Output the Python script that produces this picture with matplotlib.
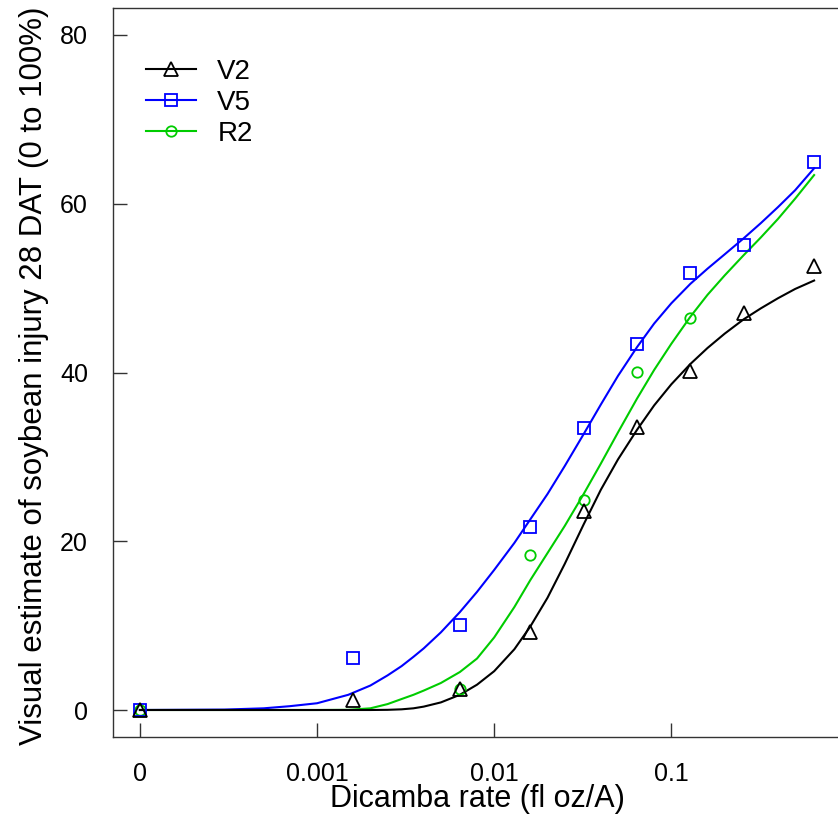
import numpy as np
import matplotlib
matplotlib.use('Agg')
import matplotlib.pyplot as plt

plt.rcParams['font.family'] = ['Liberation Sans', 'DejaVu Sans']

# dose 0 is drawn at 1e-4 on the log axis, labelled "0"
zero_pos = 1e-4
doses = [0, 0.0016, 0.0064, 0.016, 0.032, 0.064, 0.128, 0.256, 0.64]

# observed means (NaN = not visible in the figure)
v2_obs = [0, 1.2, 2.5, 9.2, 23.6, 33.5, 40.2, 47.0, 52.6]
v5_obs = [0, 6.2, 10.1, 21.7, 33.4, 43.4, 51.8, 55.1, 65.0]
r2_obs = [0, np.nan, 2.5, 18.4, 24.9, 40.1, 46.5, np.nan, np.nan]

# fitted curves
curve_doses = [1e-4, 0.0003, 0.0005, 0.0007, 0.001, 0.0015, 0.002, 0.0025,
               0.003, 0.0035, 0.004, 0.005, 0.0064, 0.008, 0.01, 0.013, 0.016,
               0.02, 0.025, 0.032, 0.04, 0.05, 0.064, 0.08, 0.1, 0.128, 0.16,
               0.2, 0.256, 0.32, 0.4, 0.5, 0.64]
v2_fit = [0, 0, 0, 0, 0, 0, 0, 0.02, 0.08, 0.2, 0.4, 0.9, 1.8, 3.0, 4.6,
          7.2, 9.9, 13.3, 17.3, 22.0, 26.1, 29.7, 33.2, 36.1, 38.6, 41.0,
          42.9, 44.6, 46.3, 47.6, 48.8, 49.9, 50.9]
v5_fit = [0, 0.05, 0.2, 0.45, 0.8, 1.8, 2.9, 4.1, 5.2, 6.3, 7.3, 9.2, 11.6,
          14.0, 16.6, 19.8, 22.6, 25.6, 28.9, 32.7, 36.2, 39.6, 43.0, 45.8,
          48.2, 50.5, 52.3, 54.0, 55.9, 57.7, 59.6, 61.6, 64.2]
r2_fit = [0, 0, 0, 0, 0, 0.02, 0.2, 0.7, 1.3, 1.8, 2.3, 3.2, 4.5, 6.1, 8.6,
          12.2, 15.4, 18.6, 21.8, 25.6, 29.2, 32.9, 36.9, 40.3, 43.4, 46.6,
          49.2, 51.5, 53.9, 56.0, 58.2, 60.6, 63.4]

labels = ['V2', 'V5', 'R2']
colors = ['black', '#0000FF', '#00CC00']
markers = ['^', 's', 'o']
msizes = [10, 8.5, 7.5]

x_ticks = [1e-4, 0.001, 0.01, 0.1]
x_ticklabels = ['0', '0.001', '0.01', '0.1']
y_ticks = [0, 20, 40, 60, 80]

fig = plt.figure(figsize=(8.38, 8.36), dpi=100)
ax = fig.add_axes([113 / 838, 99 / 836, 728 / 838, 729 / 836])

x_obs = [zero_pos if d == 0 else d for d in doses]
fits = [v2_fit, v5_fit, r2_fit]
obs = [v2_obs, v5_obs, r2_obs]
zs = [4, 3, 2]
handles = []
for fit, ob, lab, c, m, ms, z in zip(fits, obs, labels, colors, markers, msizes, zs):
    ax.plot(curve_doses, fit, color=c, lw=1.5, zorder=z)
    ax.plot(x_obs, ob, linestyle='none', marker=m, markersize=ms,
            markerfacecolor='none', markeredgecolor=c, markeredgewidth=1.3, zorder=z + 3)
    h, = ax.plot([], [], color=c, lw=1.5, marker=m, markersize=ms,
                 markerfacecolor='none', markeredgecolor=c, markeredgewidth=1.3)
    handles.append(h)

ax.set_xscale('log')
ax.set_xlim(10 ** -4.152, 10 ** -0.042)
ax.set_ylim(-3.2, 83.2)
ax.set_xticks(x_ticks)
ax.set_xticklabels(x_ticklabels)
ax.xaxis.set_minor_locator(matplotlib.ticker.NullLocator())
ax.set_yticks(y_ticks)

ax.tick_params(direction='in', length=10, width=1, color='#333333',
               labelsize=18)
ax.tick_params(axis='x', pad=18)
ax.tick_params(axis='y', pad=18)
for s in ax.spines.values():
    s.set_color('#333333')
    s.set_linewidth(1)

ax.set_xlabel('Dicamba rate (fl oz/A)', fontsize=22)
ax.set_ylabel('Visual estimate of soybean injury 28 DAT (0 to 100%)', fontsize=22.5)
ax.xaxis.set_label_coords(0.5, -0.064)
ax.yaxis.set_label_coords(-0.088, 0.495)

ax.legend(handles, labels, loc='upper left', bbox_to_anchor=(0.046, 0.93),
          frameon=False, fontsize=20, handlelength=1.8, handletextpad=0.75,
          labelspacing=0.18, borderaxespad=0, borderpad=0)

fig.savefig('out.png', dpi=100)
